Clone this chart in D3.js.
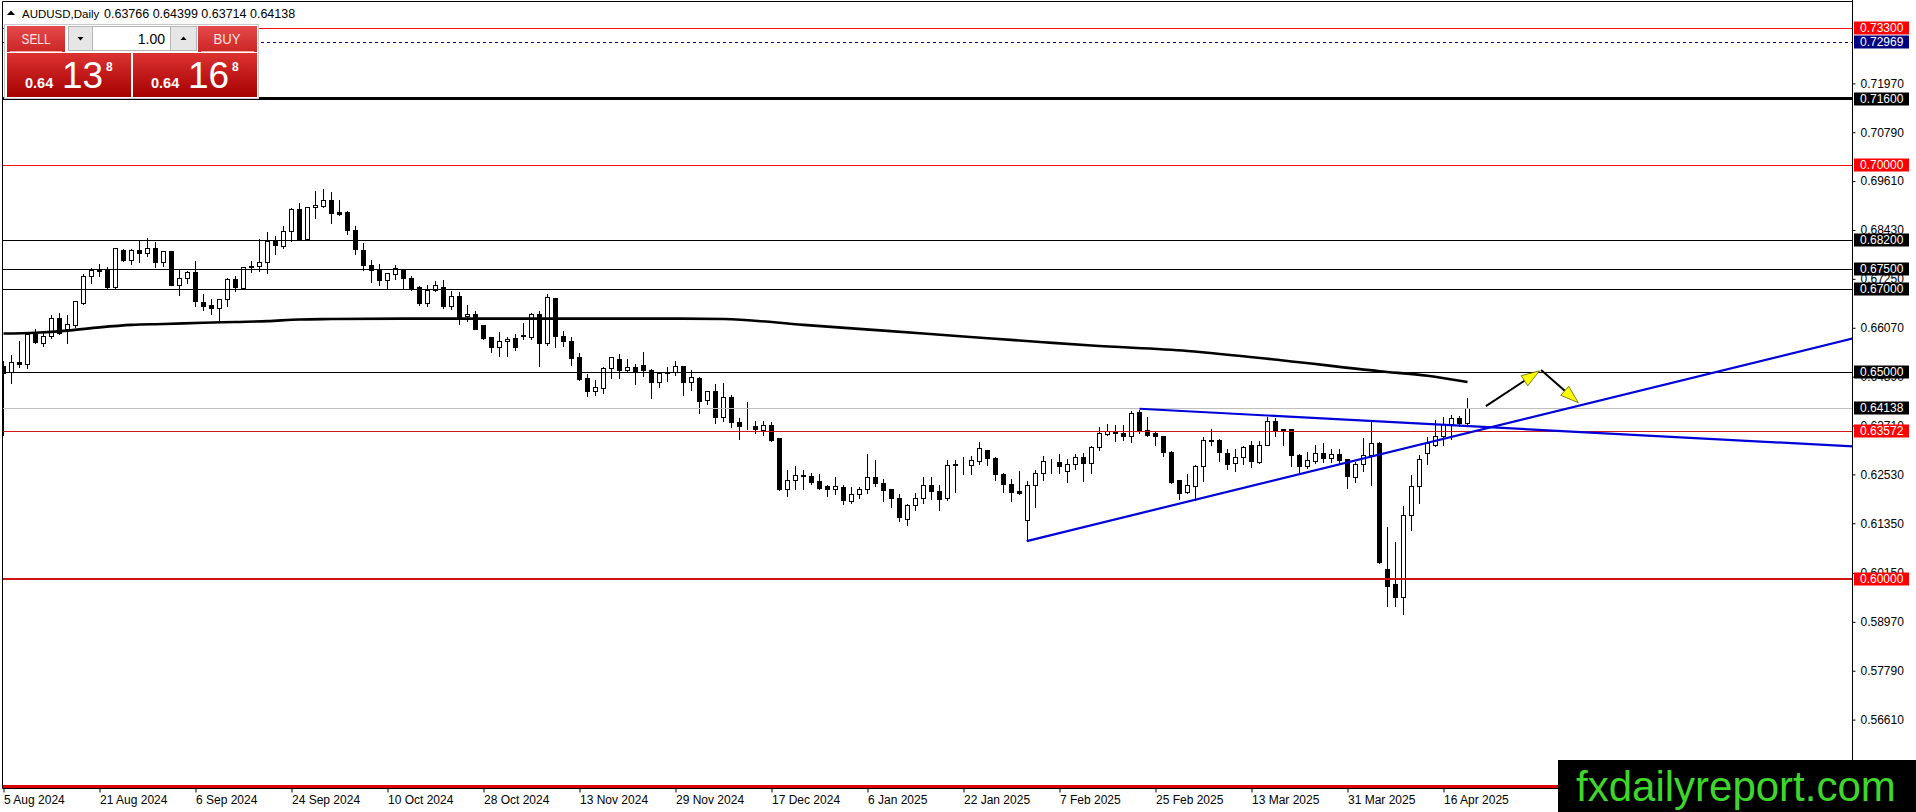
<!DOCTYPE html>
<html lang="en">
<head>
<meta charset="UTF-8">
<title>AUDUSD,Daily</title>
<script src="https://cdn.jsdelivr.net/npm/d3@7"></script>
<style>
  body { margin: 0; background: #fff; }
  svg { display: block; font-family: "Liberation Sans", Arial, sans-serif; }
</style>
</head>
<body>
<svg id="chart" width="1916" height="812"></svg>
<script>
// daily bars, 5 Aug 2024 .. 21 Apr 2025 (index = bar number)
const open = [
  .6514,.6500,.6525,.6520,.6592,.6570,.6586,.6631,.6603,.6613,.6667,.6733,.6749,.6749,.6705,.6795,.6771,.6795,.6787,.6799,
  .6765,.6793,.6711,.6727,.6742,.6669,.6663,.6655,.6677,.6725,.6703,.6757,.6755,.6765,.6817,.6804,.6840,.6894,.6822,.6898,
  .6902,.6916,.6887,.6887,.6844,.6795,.6758,.6747,.6722,.6737,.6747,.6727,.6706,.6667,.6699,.6705,.6659,.6683,.6635,.6641,
  .6613,.6584,.6560,.6574,.6582,.6586,.6584,.6640,.6569,.6680,.6588,.6576,.6536,.6486,.6454,.6462,.6509,.6532,.6506,.6513,
  .6516,.6506,.6476,.6498,.6500,.6514,.6476,.6486,.6432,.6455,.6392,.6440,.6380,.6370,.6371,.6360,.6373,.6340,.6217,.6239,
  .6252,.6250,.6236,.6224,.6218,.6223,.6189,.6206,.6218,.6247,.6233,.6217,.6197,.6146,.6179,.6197,.6227,.6213,.6197,.6276,
  .6277,.6276,.6285,.6312,.6293,.6255,.6230,.6213,.6143,.6227,.6257,.6289,.6284,.6260,.6279,.6295,.6281,.6320,.6351,.6357,
  .6353,.6345,.6403,.6360,.6352,.6345,.6308,.6239,.6210,.6226,.6273,.6337,.6335,.6305,.6281,.6296,.6323,.6284,.6325,.6383,
  .6362,.6362,.6301,.6273,.6285,.6305,.6292,.6303,.6289,.6247,.6279,.6300,.6329,.6024,.5988,.5958,.6156,.6226,.6305,.6325,
  .6345,.6374,.6390,.63766
];
const high = [
  .6530,.6544,.6578,.6599,.6607,.6597,.6639,.6645,.6639,.6675,.6739,.6753,.6763,.6757,.6803,.6799,.6799,.6820,.6826,.6817,
  .6795,.6795,.6751,.6747,.6771,.6691,.6679,.6679,.6730,.6734,.6755,.6771,.6824,.6840,.6832,.6856,.6898,.6910,.6900,.6940,
  .6944,.6938,.6918,.6892,.6856,.6815,.6773,.6763,.6741,.6761,.6751,.6735,.6709,.6713,.6723,.6725,.6699,.6695,.6665,.6651,
  .6615,.6588,.6598,.6588,.6595,.6621,.6645,.6649,.6691,.6681,.6601,.6587,.6549,.6498,.6483,.6514,.6538,.6546,.6534,.6522,
  .6550,.6510,.6502,.6514,.6530,.6518,.6508,.6491,.6456,.6474,.6476,.6446,.6392,.6430,.6384,.6384,.6381,.6341,.6267,.6276,
  .6267,.6258,.6257,.6229,.6250,.6229,.6225,.6226,.6305,.6291,.6245,.6221,.6209,.6185,.6210,.6250,.6250,.6231,.6289,.6291,
  .6297,.6299,.6333,.6313,.6297,.6259,.6245,.6263,.6239,.6265,.6301,.6293,.6305,.6293,.6305,.6307,.6325,.6371,.6376,.6374,
  .6374,.6408,.6410,.6394,.6361,.6349,.6311,.6241,.6257,.6277,.6345,.6365,.6341,.6317,.6317,.6325,.6337,.6337,.6394,.6392,
  .6366,.6366,.6305,.6309,.6327,.6331,.6317,.6317,.6293,.6285,.6344,.6386,.6333,.6128,.6092,.6178,.6253,.6303,.6345,.6386,
  .6394,.6398,.6396,.64399
];
const low = [
  .6348,.6474,.6513,.6510,.6570,.6562,.6582,.6593,.6570,.6608,.6665,.6715,.6733,.6702,.6702,.6767,.6761,.6765,.6781,.6753,
  .6757,.6709,.6687,.6715,.6660,.6649,.6641,.6621,.6659,.6695,.6702,.6742,.6745,.6738,.6785,.6800,.6817,.6820,.6820,.6872,
  .6898,.6860,.6878,.6833,.6786,.6746,.6717,.6711,.6701,.6725,.6703,.6697,.6661,.6659,.6695,.6655,.6653,.6615,.6623,.6603,
  .6581,.6548,.6538,.6540,.6554,.6581,.6581,.6514,.6565,.6560,.6564,.6517,.6482,.6442,.6444,.6450,.6486,.6486,.6500,.6472,
  .6490,.6438,.6464,.6478,.6494,.6444,.6456,.6402,.6422,.6376,.6381,.6367,.6339,.6363,.6353,.6347,.6333,.6215,.6201,.6217,
  .6218,.6229,.6217,.6202,.6205,.6181,.6185,.6197,.6209,.6226,.6189,.6174,.6141,.6131,.6166,.6183,.6193,.6167,.6191,.6210,
  .6253,.6255,.6277,.6275,.6239,.6210,.6188,.6205,.6092,.6175,.6240,.6257,.6257,.6234,.6265,.6237,.6257,.6312,.6349,.6333,
  .6336,.6331,.6353,.6345,.6325,.6297,.6233,.6194,.6207,.6191,.6237,.6323,.6285,.6265,.6261,.6277,.6271,.6281,.6323,.6345,
  .6323,.6273,.6259,.6269,.6280,.6283,.6283,.6281,.6221,.6234,.6261,.6227,.6038,.5935,.5935,.5915,.6119,.6185,.6277,.6321,
  .6323,.6339,.6371,.63714
];
const close = [
  .6498,.6524,.6519,.6592,.6573,.6588,.6631,.6595,.6616,.6672,.6733,.6747,.6744,.6705,.6799,.6771,.6795,.6787,.6799,.6765,
  .6793,.6711,.6727,.6742,.6671,.6660,.6654,.6677,.6725,.6705,.6754,.6754,.6765,.6817,.6807,.6840,.6894,.6822,.6898,.6904,
  .6916,.6884,.6882,.6842,.6797,.6758,.6747,.6722,.6739,.6751,.6727,.6703,.6667,.6699,.6709,.6659,.6683,.6628,.6641,.6605,
  .6582,.6560,.6574,.6581,.6560,.6590,.6640,.6570,.6681,.6586,.6574,.6534,.6484,.6454,.6464,.6510,.6536,.6506,.6512,.6500,
  .6505,.6476,.6498,.6500,.6514,.6476,.6488,.6430,.6454,.6392,.6440,.6379,.6370,.6369,.6363,.6373,.6337,.6218,.6239,.6252,
  .6249,.6234,.6221,.6218,.6224,.6191,.6206,.6218,.6247,.6233,.6215,.6197,.6149,.6179,.6197,.6227,.6213,.6194,.6276,.6277,
  .6278,.6287,.6317,.6292,.6253,.6231,.6210,.6209,.6227,.6257,.6285,.6290,.6273,.6277,.6295,.6281,.6320,.6353,.6357,.6353,
  .6345,.6402,.6360,.6349,.6345,.6307,.6235,.6207,.6227,.6273,.6337,.6333,.6307,.6279,.6296,.6320,.6285,.6325,.6383,.6360,
  .6360,.6299,.6273,.6287,.6305,.6292,.6303,.6288,.6249,.6279,.6300,.6329,.6042,.5984,.5958,.6156,.6226,.6291,.6328,.6345,
  .6374,.6390,.6377,.64138
];

// moving average read at a few bars
const maBars   = [0, 4, 8, 12, 16, 20, 25, 29, 33, 37, 41, 50, 60, 70, 83, 90, 100, 110, 120, 130, 136, 148, 160, 172, 178, 183];
const maValues = [.6593,.6595,.6600,.6608,.6614,.6616,.6619,.6621,.6623,.6627,.6628,.6629,.6629,.6629,.6629,.6628,
                  .6614,.6600,.6586,.6572,.6564,.6551,.6528,.6502,.6491,.6476];

// horizontal levels (the last one sits under the watermark, no visible label)
const levelPrices = [0.733, 0.72969, 0.716, 0.70, 0.682, 0.675, 0.67, 0.65, 0.64138, 0.63572, 0.60, 0.55];
const levelLabels = ["0.73300","0.72969","0.71600","0.70000","0.68200","0.67500","0.67000","0.65000","0.64138","0.63572","0.60000",""];
const levelColors = ["#ff1010","#000080","#000","#ff1010","#000","#000","#000","#000","#c0c0c0","#d01818","#cc1414","#dd0000"];
const levelBoxes  = ["#ff0000","#000080","#000","#ff0000","#000","#000","#000","#000","#000","#ff0000","#ff0000","none"];
const levelWidths = [1, 1, 3.5, 1, 1, 1, 1, 1, 1, 1, 2, 2.5];

// trend lines (bar, price)
const trendUp   = [[127.9, 0.6092], [183, 0.6353]];
const trendDown = [[142, 0.64115], [183, 0.63697]];

// arrows (bar, price)
const arrowFrom = [[185.3, 0.64178], [192.2, 0.6505]];
const arrowTo   = [[192.0, 0.6503], [196.85, 0.6426]];

const priceTicks = [0.7197,0.7079,0.6961,0.6843,0.6725,0.6607,0.6489,0.6371,0.6253,0.6135,0.6015,0.5897,0.5779,0.5661];
const dateTicks  = [0,12,24,36,48,60,72,84,96,108,120,132,144,156,168,180];
const dateLabels = ["5 Aug 2024","21 Aug 2024","6 Sep 2024","24 Sep 2024","10 Oct 2024","28 Oct 2024","13 Nov 2024",
  "29 Nov 2024","17 Dec 2024","6 Jan 2025","22 Jan 2025","7 Feb 2025","25 Feb 2025","13 Mar 2025","31 Mar 2025","16 Apr 2025"];

const svg = d3.select("#chart");
const axisX = 1852.5, axisY = 788.5, left = 2.5;

const x = d3.scaleLinear().domain([0, 1]).range([3.5, 11.5]);
const y = d3.scaleLinear().domain([0.54947, 0.73934]).range([788.5, 2]);
const py = p => Math.round(y(p)) + 0.5;

svg.append("rect").attr("width", 1916).attr("height", 812).attr("fill", "#fff");
svg.append("clipPath").attr("id", "plot").append("rect")
  .attr("x", left).attr("y", 2).attr("width", axisX - left).attr("height", axisY - 2);

const plot = svg.append("g").attr("clip-path", "url(#plot)");
const bars = d3.range(open.length);

// candles
plot.append("g").selectAll("line").data(bars).join("line")
  .attr("x1", i => x(i)).attr("x2", i => x(i))
  .attr("y1", i => py(high[i])).attr("y2", i => py(low[i]))
  .attr("stroke", "#000").attr("shape-rendering", "crispEdges");
plot.append("g").selectAll("rect").data(bars).join("rect")
  .attr("x", i => x(i) - 2).attr("width", 4)
  .attr("y", i => py(Math.max(open[i], close[i])))
  .attr("height", i => Math.max(0, py(Math.min(open[i], close[i])) - py(Math.max(open[i], close[i]))))
  .attr("fill", i => close[i] >= open[i] ? "#fff" : "#000")
  .attr("stroke", "#000").attr("shape-rendering", "crispEdges");

// moving average
plot.append("path")
  .datum(maBars.map((b, k) => [b, maValues[k]]))
  .attr("fill", "none").attr("stroke", "#000").attr("stroke-width", 2.6)
  .attr("d", d3.line().x(d => x(d[0])).y(d => y(d[1])).curve(d3.curveMonotoneX));

// levels
plot.append("g").selectAll("line").data(levelPrices).join("line")
  .attr("x1", left).attr("x2", axisX)
  .attr("y1", (p, k) => levelWidths[k] === 1 ? py(p) : y(p))
  .attr("y2", (p, k) => levelWidths[k] === 1 ? py(p) : y(p))
  .attr("stroke", (p, k) => levelColors[k])
  .attr("stroke-width", (p, k) => levelWidths[k])
  .attr("stroke-dasharray", (p, k) => k === 1 ? "3,3" : null)
  .attr("shape-rendering", "crispEdges");

// trend lines as rays to the right
function ray(t) {
  const slope = (t[1][1] - t[0][1]) / (t[1][0] - t[0][0]);
  const end = 240;
  return [t[0], [end, t[0][1] + slope * (end - t[0][0])]];
}
plot.append("g").selectAll("line").data([trendUp, trendDown].map(ray)).join("line")
  .attr("x1", d => x(d[0][0])).attr("y1", d => y(d[0][1]))
  .attr("x2", d => x(d[1][0])).attr("y2", d => y(d[1][1]))
  .attr("stroke", "#0000d8").attr("stroke-width", 2.2);

// arrows
const arrows = plot.append("g");
arrowFrom.forEach((f, k) => {
  const x1 = x(f[0]), y1 = y(f[1]), x2 = x(arrowTo[k][0]), y2 = y(arrowTo[k][1]);
  const a = Math.atan2(y2 - y1, x2 - x1), len = 18, hw = 6;
  const bx = x2 - len * Math.cos(a), by = y2 - len * Math.sin(a);
  arrows.append("line").attr("x1", x1).attr("y1", y1).attr("x2", bx).attr("y2", by)
    .attr("stroke", "#000").attr("stroke-width", 2);
  arrows.append("path")
    .attr("d", `M${x2},${y2}L${bx - hw * Math.sin(a)},${by + hw * Math.cos(a)}L${bx + hw * Math.sin(a)},${by - hw * Math.cos(a)}Z`)
    .attr("fill", "#ffff00").attr("stroke", "#5a5a00").attr("stroke-width", 0.8);
});

// frame and axes lines
svg.append("line").attr("x1", left).attr("x2", left).attr("y1", 1.5).attr("y2", axisY).attr("stroke", "#000");
svg.append("line").attr("x1", left).attr("x2", axisX).attr("y1", 1.5).attr("y2", 1.5).attr("stroke", "#000");
svg.append("line").attr("x1", axisX).attr("x2", axisX).attr("y1", 0).attr("y2", axisY).attr("stroke", "#000");
svg.append("line").attr("x1", left).attr("x2", axisX).attr("y1", axisY).attr("y2", axisY).attr("stroke", "#000");

// price axis
const pAxis = svg.append("g").attr("transform", `translate(${axisX},0)`)
  .call(d3.axisRight(y).tickValues(priceTicks).tickFormat(d => d.toFixed(5)).tickSize(3).tickPadding(5));
pAxis.select(".domain").remove();
pAxis.selectAll("text").attr("font-size", 12).attr("font-family", "Liberation Sans, Arial, sans-serif").attr("fill", "#000");
pAxis.selectAll("line").attr("stroke", "#000");

// level labels on the price axis
const lab = svg.append("g").selectAll("g").data(levelPrices.filter((p, k) => levelLabels[k])).join("g")
  .attr("transform", p => `translate(1854,${Math.round(y(p))})`);
lab.append("rect").attr("x", 0).attr("y", -6.5).attr("width", 55).attr("height", 13)
  .attr("fill", (p, k) => levelBoxes[k]);
lab.append("text").attr("x", 6).attr("y", 0).attr("dy", "0.36em")
  .attr("font-size", 12).attr("fill", "#fff").text((p, k) => levelLabels[k]);

// date axis
const dAxis = svg.append("g").attr("transform", `translate(0,${axisY})`)
  .call(d3.axisBottom(x).tickValues(dateTicks).tickFormat((d, i) => dateLabels[i]).tickSize(4).tickPadding(3));
dAxis.select(".domain").remove();
dAxis.selectAll("text").attr("text-anchor", "start").attr("font-size", 12)
  .attr("font-family", "Liberation Sans, Arial, sans-serif").attr("fill", "#000");
dAxis.selectAll("line").attr("stroke", "#000");

// header
svg.append("path").attr("d", "M7,15L11,10.5L15,15Z").attr("fill", "#000");
const head = svg.append("text").attr("x", 22).attr("y", 17.5).attr("font-size", 12).attr("fill", "#000");
head.append("tspan").attr("font-size", 11.5).text("AUDUSD,Daily");
head.append("tspan").attr("x", 104).attr("font-size", 12.5).text("0.63766 0.64399 0.63714 0.64138");

// one-click trading panel
const defs = svg.append("defs");
const g1 = defs.append("linearGradient").attr("id", "btn").attr("x1", 0).attr("y1", 0).attr("x2", 0).attr("y2", 1);
g1.append("stop").attr("offset", 0).attr("stop-color", "#e54a4a");
g1.append("stop").attr("offset", 1).attr("stop-color", "#cc2626");
const g2 = defs.append("linearGradient").attr("id", "big").attr("x1", 0).attr("y1", 0).attr("x2", 0).attr("y2", 1);
g2.append("stop").attr("offset", 0).attr("stop-color", "#dc3232");
g2.append("stop").attr("offset", 1).attr("stop-color", "#a60000");

const panel = svg.append("g");
panel.append("rect").attr("x", 4.5).attr("y", 24.5).attr("width", 254).attr("height", 74)
  .attr("fill", "#fff").attr("stroke", "#c8c8c8");
panel.append("rect").attr("x", 7).attr("y", 26).attr("width", 58).attr("height", 26).attr("fill", "url(#btn)");
panel.append("rect").attr("x", 198).attr("y", 26).attr("width", 59).attr("height", 26).attr("fill", "url(#btn)");
panel.append("line").attr("x1", 10).attr("x2", 62).attr("y1", 51.5).attr("y2", 51.5).attr("stroke", "#f2a8a8");
panel.append("line").attr("x1", 201).attr("x2", 254).attr("y1", 51.5).attr("y2", 51.5).attr("stroke", "#f2a8a8");
panel.append("text").attr("x", 36).attr("y", 44).attr("text-anchor", "middle").attr("font-size", 15)
  .attr("textLength", 29).attr("lengthAdjust", "spacingAndGlyphs").attr("fill", "#fde4e4").text("SELL");
panel.append("text").attr("x", 227).attr("y", 44).attr("text-anchor", "middle").attr("font-size", 15)
  .attr("textLength", 27).attr("lengthAdjust", "spacingAndGlyphs").attr("fill", "#fde4e4").text("BUY");
panel.append("rect").attr("x", 68.5).attr("y", 26.5).attr("width", 128).attr("height", 24)
  .attr("fill", "#fff").attr("stroke", "#b4b4b4");
panel.append("rect").attr("x", 68.5).attr("y", 26.5).attr("width", 24).attr("height", 24)
  .attr("fill", "#e6e6e6").attr("stroke", "#b4b4b4");
panel.append("rect").attr("x", 170.5).attr("y", 26.5).attr("width", 26).attr("height", 24)
  .attr("fill", "#e6e6e6").attr("stroke", "#b4b4b4");
panel.append("path").attr("d", "M77.5,37L83.5,37L80.5,40.5Z").attr("fill", "#000");
panel.append("path").attr("d", "M180.5,40L186.5,40L183.5,36.5Z").attr("fill", "#000");
panel.append("text").attr("x", 165).attr("y", 43.5).attr("text-anchor", "end").attr("font-size", 14)
  .attr("fill", "#000").text("1.00");

const quotes = [{x: 7, big: "13"}, {x: 133, big: "16"}];
quotes.forEach(q => {
  panel.append("rect").attr("x", q.x).attr("y", 53).attr("width", 124).attr("height", 44).attr("fill", "url(#big)");
  panel.append("text").attr("x", q.x + 18).attr("y", 88).attr("font-size", 14.5).attr("font-weight", "bold")
    .attr("fill", "#fff").text("0.64");
  panel.append("text").attr("x", q.x + 55).attr("y", 88).attr("font-size", 37)
    .attr("fill", "#fff").text(q.big);
  panel.append("text").attr("x", q.x + 99).attr("y", 71).attr("font-size", 12).attr("font-weight", "bold")
    .attr("fill", "#fff").text("8");
});

// watermark
svg.append("rect").attr("x", 1558).attr("y", 760).attr("width", 358).attr("height", 52).attr("fill", "#000");
svg.append("text").attr("x", 1576).attr("y", 801).attr("font-size", 42).attr("fill", "#3fd62b")
  .text("fxdailyreport.com");
</script>
</body>
</html>
